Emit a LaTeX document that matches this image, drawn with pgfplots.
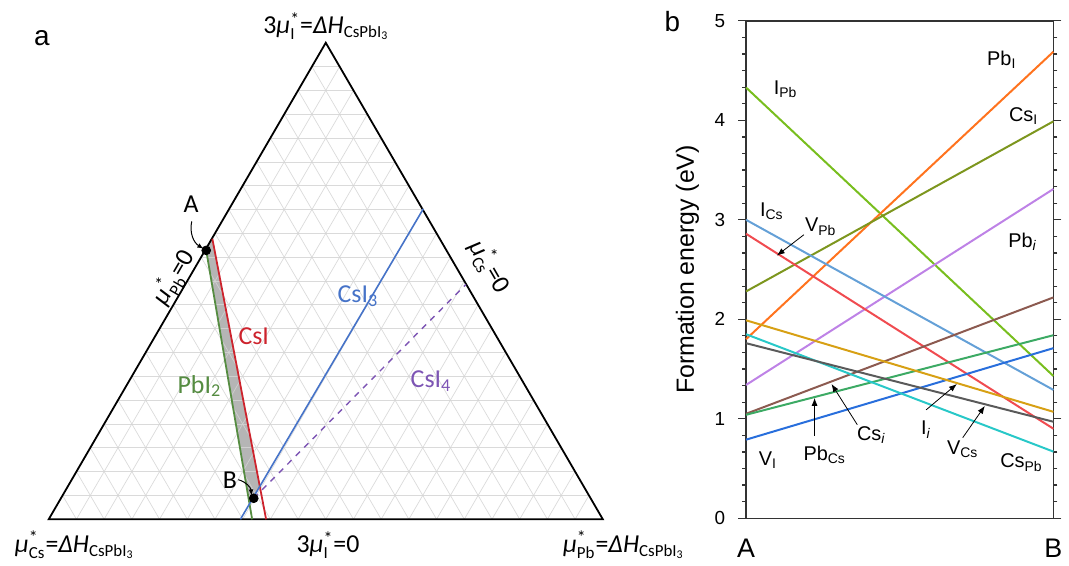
\documentclass[border=0pt]{standalone}
\usepackage{fontspec}
\setmainfont{Liberation Sans}
\newfontfamily\carlito{Carlito}
\usepackage{pgfplots}
\pgfplotsset{compat=1.18}
\usetikzlibrary{arrows.meta}
\definecolor{gridc}{RGB}{212,212,212}
\definecolor{tred}{RGB}{205,35,45}
\definecolor{tgreen}{RGB}{85,140,65}
\definecolor{tblue}{RGB}{70,115,200}
\definecolor{tpurple}{RGB}{125,85,180}
\definecolor{cIPb}{RGB}{120,190,30}
\definecolor{cPbI}{RGB}{255,115,30}
\definecolor{cCsI}{RGB}{125,150,30}
\definecolor{cPbi}{RGB}{190,130,230}
\definecolor{cICs}{RGB}{100,160,215}
\definecolor{cVPb}{RGB}{240,75,80}
\definecolor{cCsi}{RGB}{140,90,80}
\definecolor{cPbCs}{RGB}{60,170,100}
\definecolor{cVI}{RGB}{40,110,220}
\definecolor{cIi}{RGB}{215,160,20}
\definecolor{cCsPb}{RGB}{40,200,200}
\definecolor{cVCs}{RGB}{90,90,90}
\newcommand\mustar[1]{\ensuremath{\mbox{\textit{μ}}^{\mbox{\fontsize{9}{9}\selectfont *}}_{\mbox{\fontsize{8.5}{9}\selectfont #1}}}}
\newcommand\dH{\textit{ΔH}\ensuremath{_{\mbox{\fontsize{8.5}{9}\selectfont CsPbI\textsubscript{3}}}}}
\tikzset{lab/.style={font=\carlito\fontsize{13}{15}\selectfont}}
\begin{document}
\begin{tikzpicture}[x=1pt,y=1pt]
\path (0,0) rectangle (534.5,281.5);
% ---------------- panel a ----------------
\begin{axis}[at={(24.5pt,20.5pt)}, anchor=south west, scale only axis,
  width=278.5pt, height=239.5pt, xmin=0, xmax=1, ymin=0, ymax=1,
  axis lines=none, clip=false]
  % stable region
  \addplot[fill=gray!58, draw=none] coordinates {(0.2842,0.5643) (0.2953,0.5887) (0.3809,0.0690) (0.3624,0.0323)} -- cycle;
  \pgfplotsinvokeforeach{1,...,19}{
    \pgfmathsetmacro\ga{#1/40}\pgfmathsetmacro\gb{1-#1/40}\pgfmathsetmacro\gv{#1/20}
    \pgfmathsetmacro\gw{1-#1/20}\pgfmathsetmacro\gc{#1/20+(1-#1/20)/2}\pgfmathsetmacro\gd{(1-#1/20)/2}
    \addplot[gridc, line width=0.35pt, opacity=0.85] coordinates {(\ga,\gv) (\gb,\gv)};
    \addplot[gridc, line width=0.35pt, opacity=0.85] coordinates {(\gv,0) (\gc,\gw)};
    \addplot[gridc, line width=0.35pt, opacity=0.85] coordinates {(\gw,0) (\gd,\gw)};
  }
  % triangle
  \addplot[black, line width=0.9pt, line join=miter] coordinates {(0,0) (1,0) (0.5,1)} -- cycle;
  % boundaries
  \addplot[tgreen, line width=0.9pt] coordinates {(0.2842,0.5643) (0.3671,0)};
  \addplot[tred, line width=0.9pt] coordinates {(0.2953,0.5887) (0.3923,0)};
  \addplot[tblue, line width=0.8pt] coordinates {(0.346,0) (0.676,0.6514)};
  \addplot[tpurple, line width=0.7pt, dashed] coordinates {(0.370,0.044) (0.7528,0.4927)};
  \addplot[only marks, mark=*, mark size=2.2pt, black] coordinates {(0.2842,0.5643) (0.370,0.044)};
  % labels
  \node[lab, tblue] at (axis cs:0.558,0.468) {CsI\textsubscript{3}};
  \node[lab, tred] at (axis cs:0.370,0.384) {CsI};
  \node[lab, tgreen] at (axis cs:0.272,0.280) {PbI\textsubscript{2}};
  \node[lab, tpurple] at (axis cs:0.690,0.290) {CsI\textsubscript{4}};
  \node[lab] at (axis cs:0.257,0.662) {A};
  \node[lab] at (axis cs:0.327,0.081) {B};
  \draw[-{Latex[length=3pt,width=2.5pt]}, line width=0.5pt] (axis cs:0.258,0.625) to[bend right=35] (axis cs:0.279,0.568);
  \draw[-{Latex[length=3pt,width=2.5pt]}, line width=0.5pt] (axis cs:0.342,0.083) to[bend left=35] (axis cs:0.366,0.050);
  \node[lab, rotate=59.8] at (axis cs:0.226,0.508) {\mustar{Pb}=0};
  \node[lab, rotate=-59.8] at (axis cs:0.796,0.530) {\mustar{Cs}=0};
  \node[lab] at (axis cs:0.501,1.035) {3\mustar{I}=\dH};
  \node[lab] at (axis cs:0.047,-0.054) {\mustar{Cs}=\dH};
  \node[lab] at (axis cs:0.504,-0.054) {3\mustar{I}=0};
  \node[lab] at (axis cs:1.038,-0.054) {\mustar{Pb}=\dH};
\end{axis}
\node[font=\fontsize{14}{16}\selectfont] at (21,262.5) {a};
\node[font=\fontsize{14}{16}\selectfont] at (338,270.5) {b};
% ---------------- panel b ----------------
\begin{axis}[at={(375pt,21pt)}, anchor=south west, scale only axis,
  width=154.5pt, height=250pt, xmin=0, xmax=1, ymin=0, ymax=5,
  xtick={0,1}, xticklabels={A,B}, major x tick style={draw=none},
  xticklabel style={font=\fontsize{13.5}{15}\selectfont, yshift=-3pt},
  ytick={0,1,2,3,4,5}, minor y tick num=5, ytick pos=both, tick align=outside,
  major tick length=4pt, minor tick length=2pt,
  yticklabel style={font=\fontsize{9.5}{11}\selectfont, xshift=-3pt},
  /pgf/number format/assume math mode=true,
  axis line style={black!80, line width=0.7pt},
  every tick/.style={black!80, line width=0.6pt},
  ylabel={Formation energy (eV)},
  ylabel style={font=\fontsize{12.5}{14}\selectfont, yshift=1pt},
  every node/.append style={font=\fontsize{11.5}{13}\selectfont},
  clip=false]
  \addplot[cIPb, line width=1pt] coordinates {(0,4.33) (1,1.43)};
  \addplot[cPbI, line width=1pt] coordinates {(0,1.80) (1,4.69)};
  \addplot[cCsI, line width=1pt] coordinates {(0,2.28) (1,3.99)};
  \addplot[cPbi, line width=1pt] coordinates {(0,1.34) (1,3.31)};
  \addplot[cICs, line width=1pt] coordinates {(0,3.00) (1,1.29)};
  \addplot[cVPb, line width=1pt] coordinates {(0,2.86) (1,0.90)};
  \addplot[cCsi, line width=1pt] coordinates {(0,1.05) (1,2.22)};
  \addplot[cPbCs, line width=1pt] coordinates {(0,1.04) (1,1.84)};
  \addplot[cVI, line width=1pt] coordinates {(0,0.79) (1,1.71)};
  \addplot[cIi, line width=1pt] coordinates {(0,1.99) (1,1.07)};
  \addplot[cCsPb, line width=1pt] coordinates {(0,1.85) (1,0.67)};
  \addplot[cVCs, line width=1pt] coordinates {(0,1.76) (1,0.97)};
  \node at (axis cs:0.129,4.31) {I\textsubscript{Pb}};
  \node at (axis cs:0.832,4.61) {Pb\textsubscript{I}};
  \node at (axis cs:0.903,4.04) {Cs\textsubscript{I}};
  \node at (axis cs:0.900,2.78) {Pb\textsubscript{\textit{i}}};
  \node at (axis cs:0.084,3.09) {I\textsubscript{Cs}};
  \node at (axis cs:0.243,2.93) {V\textsubscript{Pb}};
  \node at (axis cs:0.071,0.58) {V\textsubscript{I}};
  \node at (axis cs:0.256,0.64) {Pb\textsubscript{Cs}};
  \node at (axis cs:0.408,0.84) {Cs\textsubscript{\textit{i}}};
  \node at (axis cs:0.586,0.89) {I\textsubscript{\textit{i}}};
  \node at (axis cs:0.705,0.69) {V\textsubscript{Cs}};
  \node at (axis cs:0.896,0.56) {Cs\textsubscript{Pb}};
  \begin{scope}[-{Latex[length=4pt,width=3pt]}, line width=0.4pt]
  \draw (axis cs:0.188,2.85) -- (axis cs:0.100,2.64);
  \draw (axis cs:0.223,0.83) -- (axis cs:0.223,1.21);
  \draw (axis cs:0.362,0.94) -- (axis cs:0.278,1.35);
  \draw (axis cs:0.586,1.09) -- (axis cs:0.686,1.35);
  \draw (axis cs:0.705,0.81) -- (axis cs:0.777,1.13);
  \end{scope}
\end{axis}
\end{tikzpicture}
\end{document}
